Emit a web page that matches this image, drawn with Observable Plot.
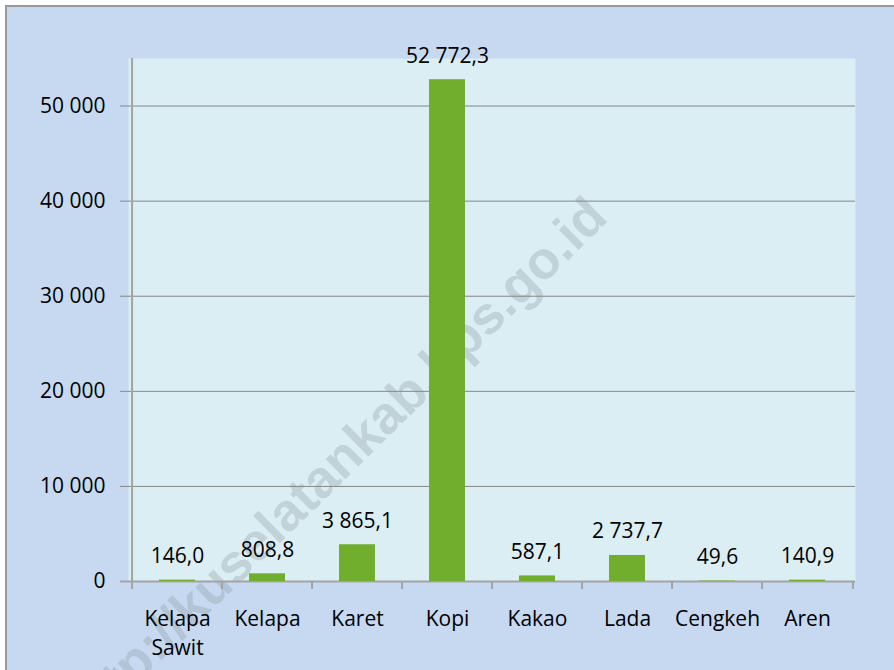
<!DOCTYPE html>
<html>
<head>
<meta charset="utf-8">
<script src="https://cdn.jsdelivr.net/npm/d3@7"></script>
<script src="https://cdn.jsdelivr.net/npm/@observablehq/plot@0.6"></script>
<style>
  html, body { margin: 0; padding: 0; background: #ffffff; }
  #chart svg { display: block; margin: 5px 0 0 5px; border-top: 2px solid #9a9a9a; border-left: 2px solid #9a9a9a; }
</style>
</head>
<body>
<div id="chart"></div>
<script>
const categories = ["Kelapa Sawit", "Kelapa", "Karet", "Kopi", "Kakao", "Lada", "Cengkeh", "Aren"];
const values = [146.0, 808.8, 3865.1, 52772.3, 587.1, 2737.7, 49.6, 140.9];
const yTicks = [0, 10000, 20000, 30000, 40000, 50000];
const watermark = "http://kuselatankab.bps.go.id";

const data = categories.map((c, i) => ({crop: c, value: values[i]}));

const locale = d3.formatLocale({decimal: ",", thousands: " ", grouping: [3], currency: ["", ""]});
const fmtValue = locale.format(",.1f");
const fmtTick = locale.format(",.0f");

const W = 887, H = 663;
const mL = 121, mR = 39, mT = 51, mB = 89;
const step = (W - mL - mR) / categories.length;
const gridColor = "#868686";
const axisColor = "#a3a3a3";

const chart = Plot.plot({
  width: W,
  height: H,
  marginLeft: mL,
  marginRight: mR,
  marginTop: mT,
  marginBottom: mB,
  style: {background: "#c6d9f1", fontFamily: "'Open Sans', sans-serif", fontSize: "21px", color: "#000"},
  x: {domain: categories, paddingInner: 0.6, paddingOuter: 0.3, label: null},
  y: {domain: [0, 55000], label: null},
  marks: [
    Plot.frame({fill: "#dbeef4", stroke: "none"}),
    Plot.text([watermark], {
      text: d => d, frameAnchor: "top-left", dx: -42, dy: 675,
      rotate: -44.5, textAnchor: "start", lineAnchor: "bottom",
      fontFamily: "'Liberation Sans', Arial, sans-serif", fontWeight: "bold", fontSize: 53,
      fill: "#8b9aa5", fillOpacity: 0.33
    }),
    Plot.gridY(yTicks.slice(1), {stroke: gridColor, strokeOpacity: 1, strokeWidth: 1, insetLeft: -8}),
    Plot.ruleY([0], {stroke: axisColor, strokeWidth: 2, insetLeft: -8}),
    Plot.ruleX([categories[0]], {dx: -step / 2, y1: 0, y2: 55000, insetTop: 0, stroke: axisColor, strokeWidth: 2}),
    Plot.ruleX(categories, {dx: -step / 2, y1: 0, y2: 0, insetTop: 8, stroke: axisColor, strokeWidth: 2}),
    Plot.ruleX([categories[categories.length - 1]], {dx: step / 2, y1: 0, y2: 0, insetTop: 8, stroke: axisColor, strokeWidth: 2}),
    Plot.barY(data, {x: "crop", y: "value", fill: "#72ae2e"}),
    Plot.text(data, {x: "crop", y: "value", text: d => fmtValue(d.value), dy: -17, lineAnchor: "bottom", fontSize: 21, fill: "#000"}),
    Plot.axisY(yTicks, {tickSize: 0, tickPadding: 23, fontSize: 21, tickFormat: fmtTick, label: null, fill: "#000"}),
    Plot.axisX({tickSize: 0, tickPadding: 24, fontSize: 21, lineHeight: 29 / 21, tickFormat: d => d.replace(" ", "\n"), label: null, fill: "#000"})
  ]
});

document.getElementById("chart").appendChild(chart);
</script>
</body>
</html>
